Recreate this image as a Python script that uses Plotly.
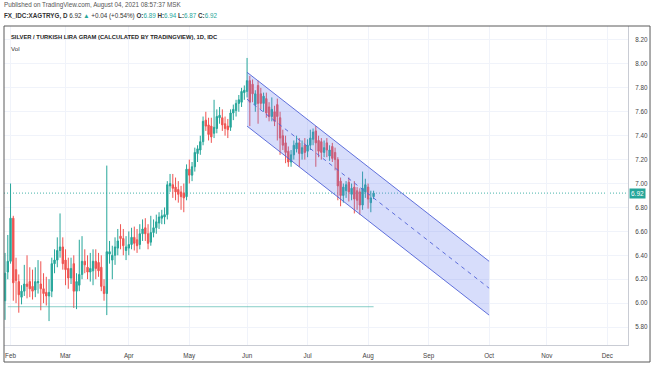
import plotly.graph_objects as go
import pandas as pd

# ---- data ----
dates = pd.bdate_range("2021-01-28", "2021-08-04")  # daily trading bars

open_ = [6.02, 6.26, 6.35, 6.71, 6.28, 6.18, 6.05, 6.10, 6.16, 6.18,
         6.14, 6.11, 6.17, 6.16, 6.12, 6.09, 6.06, 6.10, 6.33, 6.36,
         6.44, 6.47, 6.36, 6.29, 6.21, 6.33, 6.10, 6.15, 6.24, 6.35,
         6.30, 6.26, 6.27, 6.35, 6.34, 6.30, 6.14, 6.08, 6.41, 6.36,
         6.40, 6.46, 6.56, 6.54, 6.44, 6.46, 6.49, 6.55, 6.53, 6.49,
         6.58, 6.63, 6.58, 6.51, 6.59, 6.63, 6.67, 6.71, 6.72, 6.74,
         6.98, 6.99, 6.97, 6.95, 6.93, 6.92, 6.89, 7.12, 7.07, 7.14,
         7.25, 7.28, 7.35, 7.53, 7.49, 7.48, 7.42, 7.46, 7.55, 7.55,
         7.50, 7.48, 7.47, 7.59, 7.61, 7.67, 7.68, 7.76, 7.77, 7.86,
         7.83, 7.66, 7.82, 7.75, 7.67, 7.71, 7.64, 7.56, 7.60, 7.66,
         7.55, 7.40, 7.34, 7.27, 7.18, 7.24, 7.29, 7.34, 7.25, 7.32,
         7.27, 7.32, 7.37, 7.44, 7.36, 7.35, 7.26, 7.34, 7.23, 7.31,
         7.26, 7.20, 7.02, 6.90, 6.94, 7.01, 6.91, 6.97, 6.94, 6.93,
         6.82, 6.93, 6.97, 6.84, 6.89]
high = [6.42, 6.57, 7.00, 6.73, 6.38, 6.24, 6.15, 6.32, 6.40, 6.30,
        6.28, 6.30, 6.36, 6.35, 6.25, 6.22, 6.20, 6.38, 6.45, 6.55,
        6.75, 6.55, 6.45, 6.38, 6.38, 6.40, 6.25, 6.53, 6.56, 6.45,
        6.40, 6.42, 6.45, 6.45, 6.42, 6.40, 6.20, 7.15, 6.52, 6.48,
        6.55, 6.62, 6.66, 6.62, 6.56, 6.60, 6.63, 6.64, 6.62, 6.66,
        6.70, 6.71, 6.66, 6.73, 6.70, 6.74, 6.76, 6.78, 6.80, 7.02,
        7.08, 7.08, 7.05, 7.02, 6.98, 7.00, 7.16, 7.20, 7.18, 7.30,
        7.32, 7.40, 7.56, 7.60, 7.55, 7.55, 7.70, 7.62, 7.64, 7.62,
        7.56, 7.54, 7.62, 7.66, 7.70, 7.74, 7.80, 7.82, 8.05, 7.90,
        7.87, 7.78, 7.86, 7.80, 7.76, 7.76, 7.68, 7.72, 7.65, 7.71,
        7.60, 7.45, 7.40, 7.31, 7.28, 7.36, 7.40, 7.38, 7.36, 7.38,
        7.37, 7.45, 7.46, 7.48, 7.40, 7.38, 7.36, 7.38, 7.32, 7.34,
        7.30, 7.22, 7.05, 7.00, 7.02, 7.05, 7.00, 7.02, 6.97, 6.96,
        7.10, 7.04, 7.00, 6.94, 6.94]
low = [5.86, 6.20, 6.33, 6.02, 6.00, 5.92, 5.99, 6.06, 6.04, 6.05,
       6.03, 6.05, 6.08, 5.94, 6.00, 5.98, 5.85, 6.05, 6.25, 6.30,
       6.38, 6.28, 6.15, 6.12, 6.16, 5.96, 5.95, 6.10, 6.20, 6.25,
       6.20, 6.18, 6.15, 6.20, 6.22, 6.10, 6.02, 5.90, 6.33, 6.20,
       6.32, 6.40, 6.45, 6.40, 6.36, 6.40, 6.45, 6.44, 6.42, 6.45,
       6.52, 6.52, 6.45, 6.48, 6.55, 6.58, 6.62, 6.66, 6.66, 6.70,
       6.93, 6.88, 6.86, 6.84, 6.78, 6.76, 6.86, 7.00, 7.02, 7.10,
       7.18, 7.24, 7.32, 7.44, 7.36, 7.34, 7.38, 7.42, 7.50, 7.44,
       7.40, 7.38, 7.44, 7.53, 7.56, 7.60, 7.64, 7.70, 7.72, 7.48,
       7.68, 7.60, 7.50, 7.62, 7.60, 7.55, 7.52, 7.52, 7.48, 7.36,
       7.24, 7.28, 7.17, 7.14, 7.14, 7.20, 7.26, 7.14, 7.20, 7.20,
       7.22, 7.28, 7.32, 7.14, 7.22, 7.20, 7.22, 7.22, 7.19, 7.18,
       7.11, 6.86, 6.81, 6.84, 6.88, 6.85, 6.86, 6.75, 6.78, 6.74,
       6.78, 6.88, 6.79, 6.76, 6.87]
close = [6.25, 6.35, 6.71, 6.17, 6.19, 6.07, 6.10, 6.16, 6.14, 6.12,
         6.10, 6.18, 6.18, 6.12, 6.08, 6.06, 6.09, 6.33, 6.36, 6.44,
         6.47, 6.33, 6.28, 6.21, 6.29, 6.10, 6.18, 6.24, 6.35, 6.32,
         6.26, 6.29, 6.35, 6.29, 6.27, 6.14, 6.08, 6.43, 6.43, 6.40,
         6.47, 6.52, 6.54, 6.48, 6.47, 6.49, 6.55, 6.50, 6.48, 6.58,
         6.62, 6.58, 6.50, 6.59, 6.63, 6.68, 6.72, 6.73, 6.74, 6.99,
         7.00, 6.96, 6.93, 6.91, 6.89, 6.88, 7.12, 7.07, 7.14, 7.26,
         7.29, 7.35, 7.52, 7.48, 7.41, 7.39, 7.47, 7.56, 7.57, 7.49,
         7.46, 7.45, 7.59, 7.62, 7.67, 7.70, 7.77, 7.78, 7.86, 7.68,
         7.75, 7.75, 7.67, 7.67, 7.73, 7.59, 7.56, 7.62, 7.52, 7.56,
         7.38, 7.32, 7.26, 7.18, 7.24, 7.32, 7.34, 7.25, 7.30, 7.26,
         7.32, 7.38, 7.43, 7.34, 7.27, 7.26, 7.30, 7.28, 7.28, 7.21,
         7.20, 6.98, 6.90, 6.97, 6.99, 6.93, 6.96, 6.87, 6.86, 6.82,
         6.96, 6.99, 6.87, 6.88, 6.92]

tick_dates = ["2021-02-01", "2021-03-01", "2021-04-01", "2021-05-03", "2021-06-01",
              "2021-07-01", "2021-08-02", "2021-09-01", "2021-10-01", "2021-11-01",
              "2021-12-01"]
tick_labels = ["Feb", "Mar", "Apr", "May", "Jun", "Jul", "Aug", "Sep", "Oct", "Nov", "Dec"]
price_ticks = [5.80, 6.00, 6.20, 6.40, 6.60, 6.80, 7.00, 7.20, 7.40, 7.60, 7.80, 8.00, 8.20]

channel_dates = ["2021-06-01", "2021-10-01"]
channel_upper = [7.93, 6.35]
channel_lower = [7.48, 5.90]
channel_mid = [7.705, 6.125]

level_dates = ["2021-01-29", "2021-08-04"]
level_price = [5.97, 5.97]

UP = "#26a69a"
DOWN = "#ef5350"
CH_LINE = "rgba(80,98,215,0.9)"
CH_FILL = "rgba(100,125,240,0.26)"
FONT = "Liberation Sans"

fig = go.Figure()

fig.add_trace(go.Scatter(x=level_dates, y=level_price, mode="lines",
                         line=dict(color="rgba(38,166,154,0.55)", width=1),
                         hoverinfo="skip"))

fig.add_trace(go.Candlestick(
    x=dates, open=open_, high=high, low=low, close=close,
    increasing=dict(line=dict(color=UP, width=1), fillcolor=UP),
    decreasing=dict(line=dict(color=DOWN, width=1), fillcolor=DOWN),
    whiskerwidth=0, hoverinfo="skip"))

fig.add_trace(go.Scatter(x=channel_dates, y=channel_upper, mode="lines",
                         line=dict(color=CH_LINE, width=1), hoverinfo="skip"))
fig.add_trace(go.Scatter(x=channel_dates, y=channel_lower, mode="lines",
                         line=dict(color=CH_LINE, width=1), fill="tonexty",
                         fillcolor=CH_FILL, hoverinfo="skip"))
fig.add_trace(go.Scatter(x=channel_dates, y=channel_mid, mode="lines",
                         line=dict(color=CH_LINE, width=1, dash="4px,4px"),
                         hoverinfo="skip"))

last = close[-1]
fig.add_shape(type="line", xref="paper", x0=0, x1=1, yref="y", y0=last, y1=last,
              line=dict(color="rgba(38,166,154,0.85)", width=1, dash="1px,2px"),
              layer="below")

# outer frame of the snapshot
fig.add_shape(type="rect", xref="paper", yref="paper", x0=0, x1=1.0353,
              y0=-0.0533, y1=1, line=dict(color="#5a5a5a", width=1))

fig.add_annotation(xref="paper", yref="y", x=1, y=last, xanchor="left", yanchor="middle",
                   text=f"{last:.2f}", showarrow=False, bgcolor=UP,
                   font=dict(family=FONT, size=6.5, color="white"),
                   borderpad=1, xshift=1)

fig.add_annotation(xref="paper", yref="paper", x=-0.003, y=1.066, xanchor="left",
                   yanchor="middle", showarrow=False,
                   text="Published on TradingView.com, August 04, 2021 08:57:37 MSK",
                   font=dict(family=FONT, size=6.3, color="#555555"))
hdr = ("<b>FX_IDC:XAGTRYG, D</b> 6.92 "
       f"<span style='color:{UP}'>▲</span> +0.04 (+0.54%) "
       f"<b>O:</b><span style='color:{UP}'>6.89</span> "
       f"<b>H:</b><span style='color:{UP}'>6.94</span> "
       f"<b>L:</b><span style='color:{UP}'>6.87</span> "
       f"<b>C:</b><span style='color:{UP}'>6.92</span>")
fig.add_annotation(xref="paper", yref="paper", x=-0.003, y=1.031, xanchor="left",
                   yanchor="middle", showarrow=False, text=hdr,
                   font=dict(family=FONT, size=6.3, color="#333333"))
fig.add_annotation(xref="paper", yref="paper", x=0.008, y=0.966, xanchor="left",
                   yanchor="middle", showarrow=False,
                   text="<b>SILVER / TURKISH LIRA GRAM (CALCULATED BY TRADINGVIEW), 1D, IDC</b>",
                   font=dict(family=FONT, size=5.8, color="#222222"))
fig.add_annotation(xref="paper", yref="paper", x=0.008, y=0.931, xanchor="left",
                   yanchor="middle", showarrow=False, text="Vol",
                   font=dict(family=FONT, size=6.2, color="#333333"))

fig.update_layout(
    width=654, height=366,
    margin=dict(l=4, r=26, t=26, b=21),
    paper_bgcolor="white", plot_bgcolor="white",
    showlegend=False, hovermode=False, dragmode=False,
    xaxis=dict(type="date", range=["2021-01-27 15:00", "2021-12-10 12:00"],
               rangebreaks=[dict(bounds=["sat", "mon"])],
               rangeslider=dict(visible=False),
               tickvals=tick_dates, ticktext=tick_labels,
               showgrid=True, gridcolor="#f0f3fa", gridwidth=1,
               showline=True, linecolor="#c9ccd4", linewidth=1,
               ticks="", ticklabelstandoff=4,
               tickfont=dict(family=FONT, size=6.3, color="#444444"),
               zeroline=False, fixedrange=True),
    yaxis=dict(side="right", range=[5.65, 8.317],
               tickvals=price_ticks, ticktext=[f"{v:.2f}" for v in price_ticks],
               showgrid=True, gridcolor="#f0f3fa", gridwidth=1,
               showline=True, linecolor="#c9ccd4", linewidth=1, mirror=False,
               ticks="", ticklabelstandoff=5,
               tickfont=dict(family=FONT, size=6.3, color="#444444"),
               zeroline=False, fixedrange=True),
)

fig.write_html("out.html", config={"displayModeBar": False, "staticPlot": True},
               post_script="document.body.style.margin='0';document.body.style.padding='0';")
